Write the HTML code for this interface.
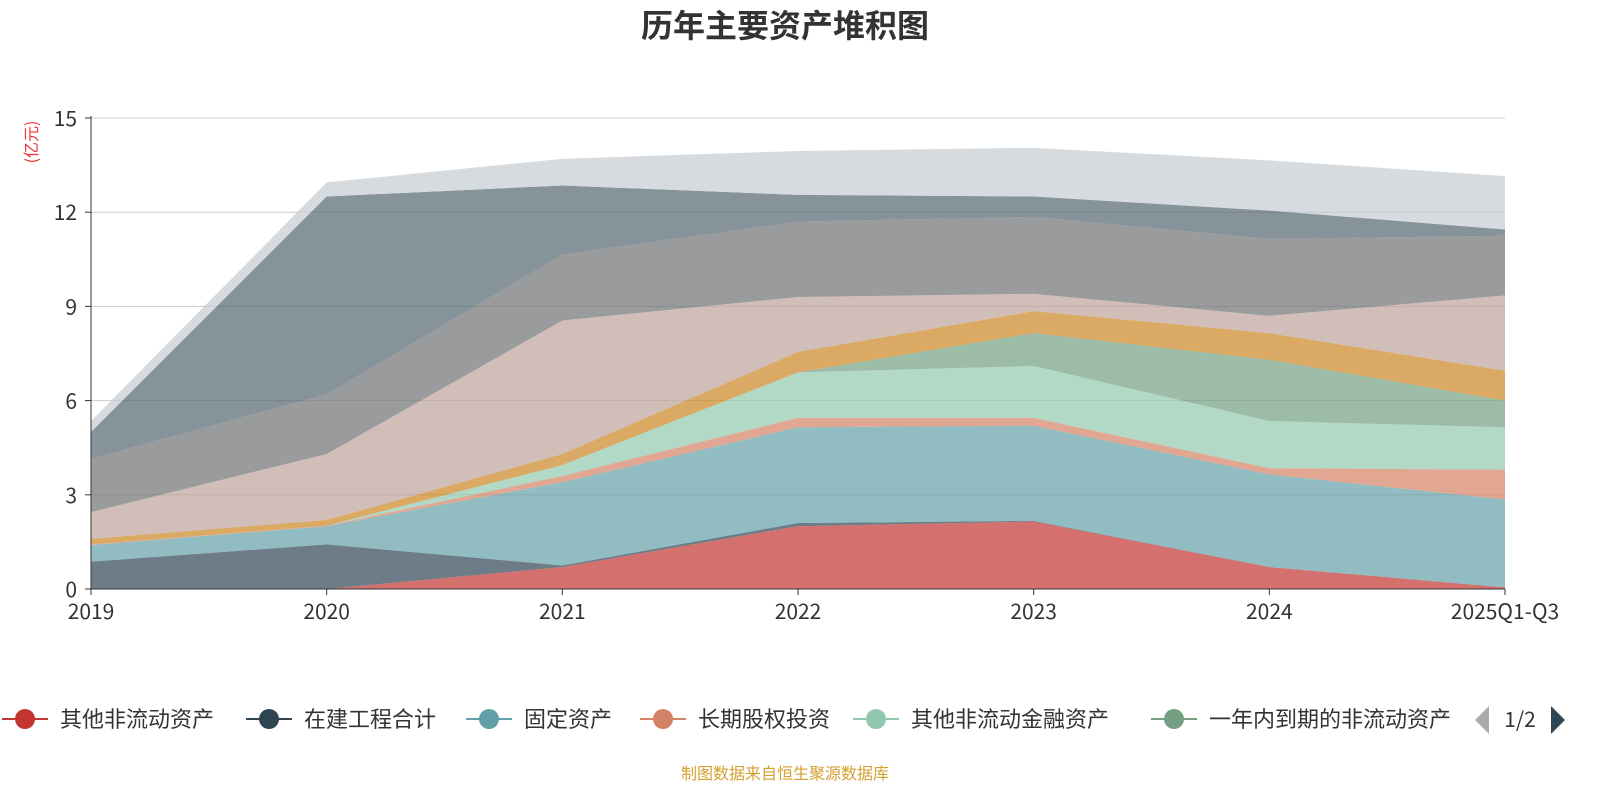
<!DOCTYPE html>
<html><head><meta charset="utf-8">
<style>
body{margin:0;background:#fff;width:1600px;height:800px;overflow:hidden;font-family:"Noto Sans CJK SC","Liberation Sans",sans-serif;}
svg text{font-family:"Noto Sans CJK SC","Liberation Sans",sans-serif;}
</style></head>
<body>
<svg id="chart" width="1600" height="800">
<text x="785" y="37" text-anchor="middle" font-size="32" font-weight="bold" fill="#333">历年主要资产堆积图</text>
<text transform="translate(37,142) rotate(-90)" text-anchor="middle" font-size="16" fill="#e33">(亿元)</text>
<g id="grid"></g>
<g id="areas"></g>
<g id="axes"></g>
<g id="legend"></g>
<text x="785" y="779" text-anchor="middle" font-size="16" fill="#d4a030">制图数据来自恒生聚源数据库</text>
</svg>
<script>
const categories=["2019","2020","2021","2022","2023","2024","2025Q1-Q3"];
const yTicks=[0,3,6,9,12,15];
const seriesNames=["其他非流动资产","在建工程合计","固定资产","长期股权投资","其他非流动金融资产","一年内到期的非流动资产","其他流动资产","货币资金","交易性金融资产","应收账款","存货"];
const seriesColors=["#c23531","#2f4554","#61a0a8","#d48265","#91c7ae","#749f83","#ca8622","#bda29a","#6e7074","#546570","#c4ccd3"];
const s0=[0,0,0.7,2.0,2.15,0.7,0.05];
const s1=[0.87,1.42,0.05,0.1,0.02,0,0];
const s2=[0.53,0.58,2.65,3.05,3.03,2.95,2.8];
const s3=[0.02,0.02,0.2,0.3,0.25,0.2,0.95];
const s4=[0,0,0.35,1.45,1.65,1.5,1.35];
const s5=[0,0,0,0,1.05,1.95,0.85];
const s6=[0.18,0.18,0.35,0.65,0.7,0.85,0.95];
const s7=[0.85,2.1,4.25,1.75,0.55,0.55,2.4];
const s8=[1.7,1.9,2.1,2.4,2.45,2.45,1.9];
const s9=[0.85,6.3,2.2,0.85,0.65,0.9,0.2];
const s10=[0.35,0.45,0.85,1.4,1.55,1.6,1.7];
const seriesValues=[s0,s1,s2,s3,s4,s5,s6,s7,s8,s9,s10];
const NS="http://www.w3.org/2000/svg";
const x0=91,x1=1505,yB=589,yT=118,yMax=15;
const xs=i=>x0+(x1-x0)*i/(categories.length-1);
const ys=v=>yB-(yB-yT)*v/yMax;
function mk(t,a,p){const e=document.createElementNS(NS,t);for(const k in a)e.setAttribute(k,a[k]);p.appendChild(e);return e;}
const grid=document.getElementById('grid'),areas=document.getElementById('areas'),axes=document.getElementById('axes'),legend=document.getElementById('legend');
yTicks.forEach(v=>{
 if(v>0){const l=mk('line',{x1:x0,x2:x1,y1:ys(v),y2:ys(v),stroke:'#ccc','stroke-width':1},grid);
 
 }
 const t=mk('text',{x:x0-14,y:ys(v)+8,'text-anchor':'end','font-size':21,fill:'#333'},axes);t.textContent=v;
 
 
 mk('line',{x1:x0-6,x2:x0,y1:ys(v),y2:ys(v),stroke:'#333'},axes);
});
let base=categories.map(()=>0);
seriesValues.forEach((vals,si)=>{
 const top=base.map((b,i)=>b+vals[i]);
 let d='M'+top.map((v,i)=>xs(i)+','+ys(v)).join(' L');
 for(let i=categories.length-1;i>=0;i--)d+=' L'+xs(i)+','+ys(base[i]);
 const p=mk('path',{d:d+'Z',fill:seriesColors[si],'fill-opacity':0.7,stroke:'none'},areas);
 
 
 base=top;
});
mk('line',{x1:x0,x2:x0,y1:yT-2,y2:yB,stroke:'#333'},axes);
mk('line',{x1:x0,x2:x1,y1:yB,y2:yB,stroke:'#333'},axes);
categories.forEach((c,i)=>{
 mk('line',{x1:xs(i),x2:xs(i),y1:yB,y2:yB+6,stroke:'#333'},axes);
 const t=mk('text',{x:xs(i),y:yB+30,'text-anchor':'middle','font-size':21,fill:'#333'},axes);t.textContent=c;
 
 
});
const legX=[2,246,466,640,853,1151];
legX.forEach((lx,i)=>{
 const g=mk('g',{},legend);
 
 
 mk('line',{x1:lx,x2:lx+46,y1:719,y2:719,stroke:seriesColors[i],'stroke-width':2},g);
 mk('circle',{cx:lx+23,cy:719,r:10,fill:seriesColors[i]},g);
 const t=mk('text',{x:lx+58,y:727,'font-size':22,fill:'#333'},g);t.textContent=seriesNames[i];
});
const cp=mk('clipPath',{id:'lc'},legend);mk('rect',{x:0,y:700,width:1462,height:40},cp);
legend.querySelectorAll('g')[5].setAttribute('clip-path','url(#lc)');
const pl=mk('path',{d:'M1489,706 L1475,720 L1489,734Z',fill:'#aaa'},legend);


const pt=mk('text',{x:1520,y:727,'text-anchor':'middle','font-size':21,fill:'#333'},legend);pt.textContent='1/2';


const pr=mk('path',{d:'M1551,706 L1565,720 L1551,734Z',fill:'#2f4554'},legend);


</script>
</body></html>
